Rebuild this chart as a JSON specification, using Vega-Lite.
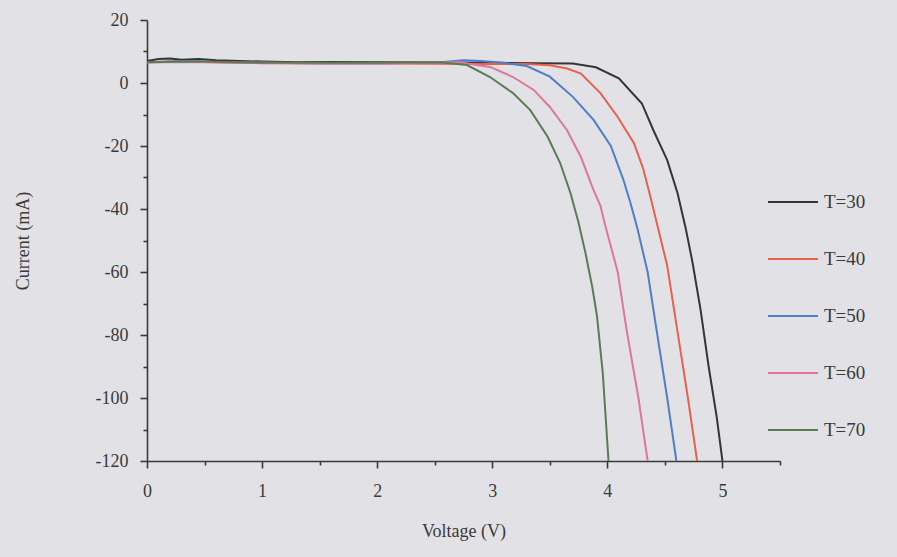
{
  "$schema": "https://vega.github.io/schema/vega-lite/v6.json",
  "width": 633,
  "height": 441,
  "autosize": {"type": "none"},
  "padding": {"left": 147, "top": 20, "right": 117, "bottom": 96},
  "background": "#e2e2e6",
  "config": {
    "view": {"stroke": null},
    "font": "Liberation Serif",
    "axis": {"domainColor": "#3a3a3a", "domainWidth": 1.6, "tickColor": "#3a3a3a", "tickWidth": 1.6, "labelColor": "#3a3a3a", "titleColor": "#3a3a3a", "labelFont": "Liberation Serif", "titleFont": "Liberation Serif", "labelFontSize": 18, "titleFontSize": 18, "titleFontWeight": "normal", "grid": false}
  },
  "data": {"values": [
    {"T":"T=30","V":0,"I":7.0},{"T":"T=30","V":0.1,"I":7.6},{"T":"T=30","V":0.2,"I":7.8},{"T":"T=30","V":0.3,"I":7.4},{"T":"T=30","V":0.45,"I":7.6},{"T":"T=30","V":0.6,"I":7.2},{"T":"T=30","V":0.8,"I":7.0},{"T":"T=30","V":1.0,"I":6.8},{"T":"T=30","V":1.3,"I":6.6},{"T":"T=30","V":1.6,"I":6.7},{"T":"T=30","V":2.0,"I":6.6},{"T":"T=30","V":2.5,"I":6.5},{"T":"T=30","V":3.0,"I":6.4},{"T":"T=30","V":3.4,"I":6.3},{"T":"T=30","V":3.7,"I":6.2},{"T":"T=30","V":3.9,"I":5.0},{"T":"T=30","V":4.1,"I":1.5},{"T":"T=30","V":4.3,"I":-6.5},{"T":"T=30","V":4.4,"I":-15},{"T":"T=30","V":4.52,"I":-24.5},{"T":"T=30","V":4.61,"I":-35},{"T":"T=30","V":4.68,"I":-46},{"T":"T=30","V":4.74,"I":-57},{"T":"T=30","V":4.81,"I":-72},{"T":"T=30","V":4.88,"I":-90},{"T":"T=30","V":4.95,"I":-106},{"T":"T=30","V":5.0,"I":-120},
    {"T":"T=40","V":0,"I":6.5},{"T":"T=40","V":0.3,"I":6.8},{"T":"T=40","V":0.6,"I":6.6},{"T":"T=40","V":1.0,"I":6.3},{"T":"T=40","V":1.5,"I":6.2},{"T":"T=40","V":2.0,"I":6.2},{"T":"T=40","V":2.5,"I":6.1},{"T":"T=40","V":3.0,"I":6.0},{"T":"T=40","V":3.3,"I":6.0},{"T":"T=40","V":3.5,"I":5.6},{"T":"T=40","V":3.65,"I":4.6},{"T":"T=40","V":3.77,"I":3.0},{"T":"T=40","V":3.94,"I":-3.2},{"T":"T=40","V":4.09,"I":-10.8},{"T":"T=40","V":4.23,"I":-19},{"T":"T=40","V":4.31,"I":-27},{"T":"T=40","V":4.38,"I":-37},{"T":"T=40","V":4.44,"I":-46},{"T":"T=40","V":4.52,"I":-58},{"T":"T=40","V":4.61,"I":-79},{"T":"T=40","V":4.70,"I":-100},{"T":"T=40","V":4.78,"I":-120},
    {"T":"T=50","V":0,"I":6.6},{"T":"T=50","V":0.3,"I":7.0},{"T":"T=50","V":0.6,"I":6.7},{"T":"T=50","V":1.0,"I":6.4},{"T":"T=50","V":1.5,"I":6.3},{"T":"T=50","V":2.0,"I":6.3},{"T":"T=50","V":2.5,"I":6.4},{"T":"T=50","V":2.75,"I":7.2},{"T":"T=50","V":2.9,"I":7.0},{"T":"T=50","V":3.1,"I":6.4},{"T":"T=50","V":3.3,"I":5.4},{"T":"T=50","V":3.5,"I":2.0},{"T":"T=50","V":3.7,"I":-4.4},{"T":"T=50","V":3.88,"I":-11.7},{"T":"T=50","V":4.03,"I":-20},{"T":"T=50","V":4.14,"I":-30.8},{"T":"T=50","V":4.2,"I":-38},{"T":"T=50","V":4.26,"I":-46},{"T":"T=50","V":4.35,"I":-60},{"T":"T=50","V":4.43,"I":-79},{"T":"T=50","V":4.52,"I":-100},{"T":"T=50","V":4.6,"I":-120},
    {"T":"T=60","V":0,"I":6.6},{"T":"T=60","V":0.5,"I":6.6},{"T":"T=60","V":1.0,"I":6.4},{"T":"T=60","V":1.5,"I":6.3},{"T":"T=60","V":2.0,"I":6.3},{"T":"T=60","V":2.5,"I":6.4},{"T":"T=60","V":2.7,"I":6.7},{"T":"T=60","V":2.98,"I":5.1},{"T":"T=60","V":3.18,"I":1.9},{"T":"T=60","V":3.36,"I":-2.2},{"T":"T=60","V":3.5,"I":-7.6},{"T":"T=60","V":3.65,"I":-15},{"T":"T=60","V":3.77,"I":-23.5},{"T":"T=60","V":3.88,"I":-34},{"T":"T=60","V":3.94,"I":-39},{"T":"T=60","V":3.98,"I":-45},{"T":"T=60","V":4.09,"I":-60},{"T":"T=60","V":4.17,"I":-79},{"T":"T=60","V":4.27,"I":-100},{"T":"T=60","V":4.35,"I":-120},
    {"T":"T=70","V":0,"I":6.7},{"T":"T=70","V":0.5,"I":6.8},{"T":"T=70","V":1.0,"I":6.5},{"T":"T=70","V":1.5,"I":6.4},{"T":"T=70","V":2.0,"I":6.4},{"T":"T=70","V":2.3,"I":6.5},{"T":"T=70","V":2.55,"I":6.6},{"T":"T=70","V":2.78,"I":5.7},{"T":"T=70","V":2.98,"I":1.9},{"T":"T=70","V":3.18,"I":-3.2},{"T":"T=70","V":3.33,"I":-8.6},{"T":"T=70","V":3.48,"I":-17},{"T":"T=70","V":3.59,"I":-25.4},{"T":"T=70","V":3.68,"I":-35},{"T":"T=70","V":3.75,"I":-44.4},{"T":"T=70","V":3.81,"I":-54},{"T":"T=70","V":3.87,"I":-65},{"T":"T=70","V":3.91,"I":-74},{"T":"T=70","V":3.96,"I":-92},{"T":"T=70","V":4.01,"I":-120}
  ]},
  "mark": {"type": "line", "strokeWidth": 2, "clip": true},
  "encoding": {
    "x": {"field": "V", "type": "quantitative",
      "scale": {"domain": [0, 5.5], "nice": false, "zero": false},
      "axis": {"title": "Voltage (V)", "values": [0,0.5,1,1.5,2,2.5,3,3.5,4,4.5,5,5.5],
        "labelExpr": "datum.value % 1 === 0 && datum.value < 5.5 ? toString(datum.value) : ''",
        "tickSize": {"condition": {"test": "datum.value % 1 === 0", "value": 7}, "value": 4},
        "labelPadding": 14, "titlePadding": 22, "labelFlush": false}},
    "y": {"field": "I", "type": "quantitative",
      "scale": {"domain": [-120, 20], "nice": false, "zero": false},
      "axis": {"title": "Current (mA)", "values": [20,10,0,-10,-20,-30,-40,-50,-60,-70,-80,-90,-100,-110,-120],
        "labelExpr": "datum.value % 20 === 0 ? toString(datum.value) : ''",
        "tickSize": {"condition": {"test": "datum.value % 20 === 0", "value": 7}, "value": 4},
        "labelPadding": 12, "titlePadding": 63, "labelFlush": false}},
    "color": {"field": "T", "type": "nominal",
      "scale": {"domain": ["T=30","T=40","T=50","T=60","T=70"], "range": ["#353535","#e8604e","#4f7ec6","#e0759a","#5b7b52"]},
      "legend": {"title": null, "orient": "none", "legendX": 620, "legendY": 156, "symbolType": "stroke", "symbolSize": 2500, "symbolStrokeWidth": 2, "labelFont": "Liberation Serif", "labelFontSize": 19, "labelColor": "#3a3a3a", "rowPadding": 21, "labelOffset": 5}}
  }
}
